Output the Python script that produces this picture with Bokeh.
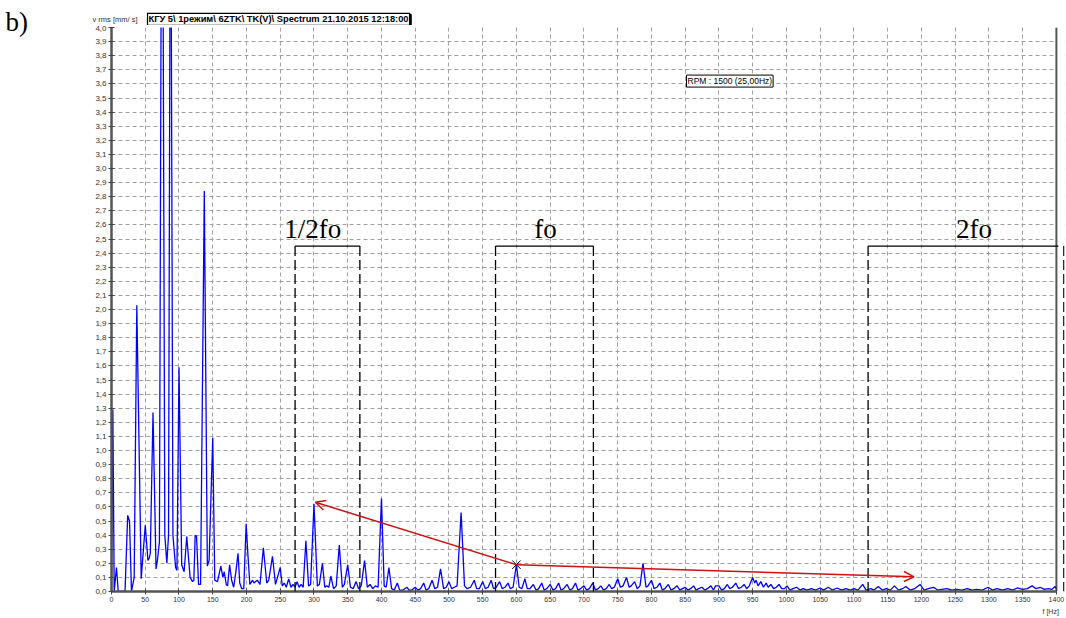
from bokeh.plotting import figure
from bokeh.models import (ColumnDataSource, FixedTicker, Label, Arrow, OpenHead, Range1d)
from bokeh.layouts import row, column
from bokeh.embed import file_html
from bokeh.resources import INLINE

# ---------------- data ----------------
freq_a = [0, 2, 4, 7.4, 10, 20, 24, 26.7, 29.6, 33.6, 37.5, 44, 50, 54, 56, 57.5, 61.5, 66, 68, 71,
          75, 79, 82, 84.5, 87.5, 91, 95, 97, 100, 104, 107.6, 111.5, 116.5, 120, 122, 124, 126, 129,
          132, 137.5, 142, 144.6, 150, 153, 157, 162, 165, 167, 170, 172, 175, 178, 181, 184, 187.5,
          190, 193, 196, 199.5, 202, 205, 209, 211, 216]
vrms_a = [0, 1.29, 0, 0.17, 0, 0, 0.54, 0.50, 0, 0.10, 2.03, 0.09, 0.47, 0.22, 0.24, 0.27, 1.27, 0.16,
          0.22, 0.35, 6.5, 0.4, 0.20, 0.4, 5.8, 0.4, 0.17, 0.15, 1.59, 0.19, 0.14, 0.39, 0.10, 0.07,
          0.08, 0.40, 0.39, 0.05, 0.05, 2.84, 0.18, 0.22, 1.09, 0.08, 0.07, 0.18, 0.10, 0.14, 0.05,
          0.04, 0.19, 0.08, 0.03, 0.13, 0.27, 0.06, 0.02, 0.02, 0.48, 0.27, 0.05, 0.08, 0.06, 0.08]

freq_b = [220, 225, 230, 233, 238.5, 243, 250, 253, 256, 259, 262.5, 266, 269, 272, 275, 278, 281, 284,
          288, 292, 295, 300, 305, 308, 312.5, 316, 319, 322, 325, 329, 333, 337.5, 342, 345, 350, 354,
          358, 362.5, 366, 370, 375, 379, 383, 387, 391, 395, 400, 404, 407, 411, 415, 419, 423.5, 427,
          432, 437.5, 441, 445, 450, 454, 458, 462.5, 466, 470, 475, 479, 483, 487.5, 492, 496, 500,
          504, 508, 512, 518, 523, 527, 532, 537.5, 541, 545, 550, 554, 558, 562.5, 566, 570, 575, 579,
          583, 587.5, 591, 595, 600]
vrms_b = [0.05, 0.31, 0.06, 0.08, 0.25, 0.05, 0.17, 0.04, 0.06, 0.03, 0.09, 0.03, 0.05, 0.03, 0.07, 0.03,
          0.05, 0.03, 0.36, 0.04, 0.05, 0.62, 0.04, 0.05, 0.20, 0.03, 0.04, 0.03, 0.11, 0.02, 0.04, 0.33,
          0.03, 0.05, 0.19, 0.03, 0.02, 0.07, 0.02, 0.04, 0.22, 0.03, 0.05, 0.02, 0.04, 0.03, 0.66, 0.04,
          0.03, 0.17, 0.02, 0.01, 0.06, 0.01, 0.01, 0.03, 0.01, 0.01, 0.03, 0.01, 0.02, 0.06, 0.01, 0.02,
          0.08, 0.02, 0.03, 0.16, 0.02, 0.03, 0.07, 0.02, 0.03, 0.04, 0.56, 0.04, 0.02, 0.03, 0.08, 0.02,
          0.02, 0.07, 0.02, 0.03, 0.08, 0.02, 0.03, 0.07, 0.02, 0.03, 0.06, 0.02, 0.03, 0.19]

freq_c = [604, 608, 612.5, 616, 620, 625, 629, 633, 637.5, 641, 645, 650, 654, 658, 662.5, 666, 670, 675,
          679, 683, 687.5, 691, 695, 700, 704, 708, 713, 717, 721, 725, 729, 733, 737.5, 741, 745, 750,
          754, 758, 763, 767, 770, 775, 779, 783, 787.5, 792, 795, 800, 804, 808, 812.5, 816, 820, 825,
          829, 833, 838, 842, 846, 850, 854, 858, 862.5, 866, 870, 875, 879, 883, 888, 892, 895, 900,
          904, 908, 912.5, 916, 920, 925, 929, 933, 937.5, 941, 945, 950, 953, 955, 958, 962, 966, 970,
          973, 977, 981, 985, 989, 993, 997, 1001, 1005, 1010, 1015, 1020, 1025, 1030, 1037, 1043, 1050,
          1055, 1062, 1068, 1075, 1082, 1088, 1095, 1100, 1106, 1113, 1118, 1125, 1130, 1136, 1142, 1148,
          1154, 1160, 1166, 1172, 1177, 1183, 1190, 1198, 1204, 1210, 1218, 1224, 1230, 1238, 1245, 1252,
          1260, 1268, 1275, 1282, 1290, 1299, 1305, 1312, 1320, 1328, 1335, 1342, 1350, 1357, 1364, 1370,
          1376, 1382, 1388, 1393, 1398, 1400]
vrms_c = [0.03, 0.02, 0.09, 0.02, 0.02, 0.05, 0.01, 0.02, 0.06, 0.01, 0.02, 0.05, 0.01, 0.02, 0.06, 0.01,
          0.02, 0.05, 0.01, 0.02, 0.06, 0.01, 0.02, 0.04, 0.01, 0.02, 0.06, 0.01, 0.02, 0.04, 0.01, 0.02,
          0.05, 0.02, 0.03, 0.09, 0.03, 0.04, 0.10, 0.03, 0.04, 0.07, 0.02, 0.04, 0.20, 0.03, 0.04, 0.08,
          0.02, 0.03, 0.06, 0.01, 0.02, 0.05, 0.01, 0.02, 0.04, 0.01, 0.02, 0.03, 0.01, 0.02, 0.04, 0.01,
          0.02, 0.03, 0.01, 0.02, 0.04, 0.01, 0.04, 0.04, 0.01, 0.02, 0.05, 0.02, 0.03, 0.06, 0.02, 0.03,
          0.05, 0.02, 0.04, 0.10, 0.06, 0.08, 0.04, 0.07, 0.03, 0.06, 0.03, 0.05, 0.02, 0.03, 0.05, 0.02,
          0.02, 0.04, 0.01, 0.02, 0.03, 0.01, 0.02, 0.01, 0.02, 0.01, 0.025, 0.01, 0.03, 0.01, 0.025, 0.01,
          0.02, 0.01, 0.02, 0.01, 0.05, 0.01, 0.02, 0.01, 0.035, 0.01, 0.02, 0.01, 0.04, 0.01, 0.02, 0.035,
          0.01, 0.02, 0.05, 0.01, 0.02, 0.03, 0.01, 0.015, 0.02, 0.01, 0.015, 0.01, 0.02, 0.01, 0.015,
          0.01, 0.03, 0.01, 0.02, 0.01, 0.02, 0.01, 0.025, 0.015, 0.02, 0.04, 0.02, 0.03, 0.015, 0.02,
          0.015, 0.035, 0.02]

freq = freq_a + freq_b + freq_c
vrms = vrms_a + vrms_b + vrms_c

x_ticks = [0, 50, 100, 150, 200, 250, 300, 350, 400, 450, 500, 550, 600, 650, 700, 750, 800, 850,
           900, 950, 1000, 1050, 1100, 1150, 1200, 1250, 1300, 1350, 1400]
y_ticks = [0.0, 0.1, 0.2, 0.3, 0.4, 0.5, 0.6, 0.7, 0.8, 0.9, 1.0, 1.1, 1.2, 1.3, 1.4, 1.5, 1.6, 1.7,
           1.8, 1.9, 2.0, 2.1, 2.2, 2.3, 2.4, 2.5, 2.6, 2.7, 2.8, 2.9, 3.0, 3.1, 3.2, 3.3, 3.4, 3.5,
           3.6, 3.7, 3.8, 3.9, 4.0]
y_tick_labels = ["0,0", "0,1", "0,2", "0,3", "0,4", "0,5", "0,6", "0,7", "0,8", "0,9", "1,0", "1,1",
                 "1,2", "1,3", "1,4", "1,5", "1,6", "1,7", "1,8", "1,9", "2,0", "2,1", "2,2", "2,3",
                 "2,4", "2,5", "2,6", "2,7", "2,8", "2,9", "3,0", "3,1", "3,2", "3,3", "3,4", "3,5",
                 "3,6", "3,7", "3,8", "3,9", "4,0"]

# frequency bands (brackets): label, start Hz, end Hz
band_labels = ["1/2fo", "fo", "2fo"]
band_start = [272, 569, 1121]
band_end = [368, 714, 1411]
band_top = 2.45
band_text_x = [298, 643, 1278]

# marker and arrows
mark_f, mark_v = 600, 0.19
arrow_to_f = [302, 1189]
arrow_to_v = [0.633, 0.104]

title_text = "КГУ 5\\ 1режим\\ 6ZTK\\ TK(V)\\ Spectrum 21.10.2015 12:18:00"
rpm_text = "RPM : 1500 (25,00Hz)"


def no_align(f):
    try:
        f.frame_align = False
    except Exception:
        pass


def strip(w, h):
    f = figure(width=w, height=h, x_range=Range1d(0, w), y_range=Range1d(0, h),
               x_axis_type=None, y_axis_type=None, min_border=0,
               min_border_left=0, min_border_right=0, min_border_top=0, min_border_bottom=0,
               toolbar_location=None, output_backend="svg")
    f.outline_line_color = None
    f.background_fill_color = "white"
    f.border_fill_color = "white"
    no_align(f)
    return f


# ---------------- main figure ----------------
p = figure(width=1026, height=580, output_backend="svg", toolbar_location=None,
           x_range=Range1d(0, 1412), y_range=Range1d(0, 4.0),
           min_border_left=71, min_border_right=2, min_border_top=2, min_border_bottom=14)
p.outline_line_color = None
p.background_fill_color = "white"
p.border_fill_color = "white"
no_align(p)

grid_color = "#a0a0a0"
p.xgrid.grid_line_color = grid_color
p.ygrid.grid_line_color = grid_color
p.xgrid.grid_line_dash = "4 3"
p.ygrid.grid_line_dash = "4 3"

p.xaxis.ticker = FixedTicker(ticks=x_ticks)
p.yaxis.ticker = FixedTicker(ticks=y_ticks)
p.xaxis.bounds = (0, 1400)
p.yaxis.major_label_overrides = {t: l for t, l in zip(y_ticks, y_tick_labels)}
for ax in (p.xaxis[0], p.yaxis[0]):
    ax.axis_line_color = "#555555"
    ax.axis_line_width = 2.5
    ax.major_tick_line_color = "#444444"
    ax.major_tick_in = 3
    ax.major_tick_out = 3
    ax.minor_tick_line_color = None
    ax.major_label_text_color = "#333333"
    ax.major_label_text_font = "Liberation Sans"
p.yaxis.major_label_text_font_size = "8px"
p.xaxis.major_label_text_font_size = "7px"
p.yaxis.major_label_standoff = 2
p.xaxis.major_label_standoff = 2

# area right of the 1400 Hz border is blank
p.quad(left=[1400], right=[1412], bottom=[0], top=[4.0], fill_color="white", line_color=None)
p.segment(x0=[1400], y0=[0], x1=[1400], y1=[4.0], line_color="#555555", line_width=2)

# spectrum
src = ColumnDataSource(dict(f=freq, v=vrms))
p.line("f", "v", source=src, line_color="#0000ff", line_width=1.3)

# band brackets
for lab, s, e, tx in zip(band_labels, band_start, band_end, band_text_x):
    p.add_layout(Arrow(start=None, end=None, x_start=s, y_start=band_top, x_end=min(e, 1403),
                       y_end=band_top, line_color="black", line_width=1.2))
    for xx in (s, e):
        p.add_layout(Arrow(start=None, end=None, x_start=xx, y_start=band_top, x_end=xx, y_end=0,
                           line_color="black", line_width=1.3, line_dash="10 4"))
    p.add_layout(Label(x=tx, y=2.572, text=lab, text_font="Liberation Serif",
                       text_font_size="27px", text_align="center", text_baseline="alphabetic",
                       text_color="black"))

# red arrows
for tf, tv in zip(arrow_to_f, arrow_to_v):
    p.add_layout(Arrow(end=OpenHead(size=10, line_color="#cc1111", line_width=1.5),
                       x_start=mark_f, y_start=mark_v, x_end=tf, y_end=tv,
                       line_color="#cc1111", line_width=1.5))
p.scatter([mark_f], [mark_v], marker="x", size=12, line_color="black", line_width=1)

p.add_layout(Label(x=852, y=3.62, text=rpm_text, text_font="Liberation Sans",
                   text_font_size="8.5px", text_baseline="alphabetic", text_color="black",
                   border_line_color="black", border_line_width=1,
                   background_fill_color="white", padding=1))

# ---------------- strips with outer texts ----------------
left = strip(40, 618)
left.add_layout(Label(x=5, y=597, text="b)", text_font="Liberation Serif", text_font_size="27px",
                      text_baseline="alphabetic", text_color="black"))

top = strip(1026, 25)
top.add_layout(Label(x=52, y=6.3, text="v rms [mm/ s]", text_font="Liberation Sans",
                     text_font_size="7.5px", text_baseline="alphabetic", text_color="#333333"))
# shadow of the title box
top.add_layout(Label(x=107, y=6.2, x_offset=1.5, y_offset=-1.2, text=title_text,
                     text_font="Liberation Sans", text_font_size="9.3px", text_font_style="bold",
                     text_baseline="alphabetic", text_color="black",
                     border_line_color="black", border_line_width=1.5,
                     background_fill_color="black", padding=1))
top.add_layout(Label(x=107, y=6.2, text=title_text, text_font="Liberation Sans",
                     text_font_size="9.3px", text_font_style="bold",
                     text_baseline="alphabetic", text_color="black",
                     border_line_color="black", border_line_width=1.2,
                     background_fill_color="white", padding=1))

bottom = strip(1026, 13)
bottom.add_layout(Label(x=1002, y=7.5, text="f [Hz]", text_font="Liberation Sans",
                        text_font_size="7px", text_baseline="alphabetic", text_color="#333333"))

layout = row(left, column(top, p, bottom))

open("out.html", "w").write(file_html(layout, INLINE))
